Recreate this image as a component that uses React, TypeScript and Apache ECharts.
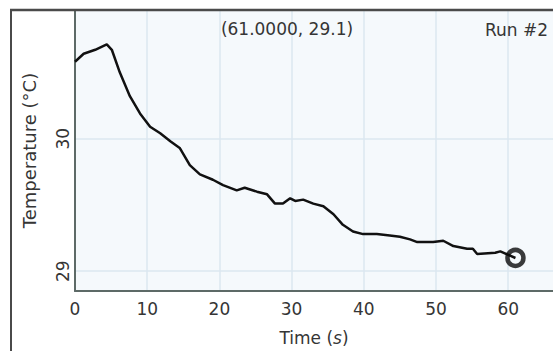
import React, { useEffect, useRef } from "react";
import * as echarts from "echarts";

const timeS = [0, 1.2, 2.8, 4.4, 5.1, 6.2, 7.6, 9.0, 10.4, 11.8, 13.2, 14.5, 15.9, 17.3, 19.1, 20.5, 22.4, 23.5, 25.2, 26.6, 27.7, 28.8, 29.8, 30.5, 31.6, 33.0, 34.4, 35.8, 37.1, 38.5, 39.9, 41.8, 43.6, 45.0, 46.4, 47.4, 49.6, 51.0, 52.4, 54.3, 55.1, 55.7, 58.2, 58.9, 61.0];
const tempC = [30.58, 30.64, 30.67, 30.71, 30.67, 30.50, 30.32, 30.19, 30.09, 30.04, 29.98, 29.93, 29.80, 29.73, 29.69, 29.65, 29.61, 29.63, 29.60, 29.58, 29.51, 29.51, 29.55, 29.53, 29.54, 29.51, 29.49, 29.43, 29.35, 29.30, 29.28, 29.28, 29.27, 29.26, 29.24, 29.22, 29.22, 29.23, 29.19, 29.17, 29.17, 29.13, 29.14, 29.15, 29.10];
const xTicks = [0, 10, 20, 30, 40, 50, 60];
const yTicks = [29, 30];
const cursorPoint = [61.0, 29.1];
const cursorLabel = "(61.0000, 29.1)";
const runLabel = "Run #2";

const FONT = '"DejaVu Sans", "Open Sans", sans-serif';

export default function App() {
  const ref = useRef<HTMLDivElement>(null);
  useEffect(() => {
    if (!ref.current) return;
    const chart = echarts.init(ref.current, null, { renderer: "svg" });
    const axisLineColor = "#5d6a67";
    const gridColor = "#dbe7f0";
    const textColor = "#353535";
    chart.setOption({
      animation: false,
      backgroundColor: "#ffffff",
      grid: {
        left: 75,
        top: 10,
        right: 0,
        bottom: 57,
        show: true,
        backgroundColor: "#f5f9fc",
        borderWidth: 0,
      },
      xAxis: {
        type: "value",
        min: 0,
        max: 66.2,
        name: "Time ({i|s})",
        nameLocation: "middle",
        nameGap: 38,
        nameTextStyle: {
          fontFamily: FONT,
          fontSize: 17,
          color: textColor,
          rich: { i: { fontStyle: "italic", fontFamily: FONT, fontSize: 17, color: textColor } },
        },
        axisLine: { show: true, onZero: false, lineStyle: { color: axisLineColor, width: 2 } },
        axisTick: { show: false, customValues: xTicks },
        axisLabel: { customValues: xTicks, fontFamily: FONT, fontSize: 17, color: textColor, margin: 9 },
        splitLine: { show: true, lineStyle: { color: gridColor, width: 1.5 } },
      },
      yAxis: {
        type: "value",
        min: 28.851,
        max: 30.97,
        name: "Temperature (°C)",
        nameLocation: "middle",
        nameGap: 37,
        nameRotate: 90,
        nameTextStyle: { fontFamily: FONT, fontSize: 18, color: textColor },
        axisLine: { show: true, onZero: false, lineStyle: { color: axisLineColor, width: 2 } },
        axisTick: { show: false, customValues: yTicks },
        axisLabel: { customValues: yTicks, rotate: 90, fontFamily: FONT, fontSize: 17, color: textColor, margin: 4 },
        splitLine: { show: true, lineStyle: { color: gridColor, width: 1.5 } },
      },
      series: [
        {
          type: "line",
          data: timeS.map((t, i) => [t, tempC[i]]),
          showSymbol: false,
          symbol: "none",
          lineStyle: { color: "#111", width: 2.5 },
        },
        {
          type: "scatter",
          data: [cursorPoint],
          symbol: "circle",
          symbolSize: 16,
          itemStyle: { color: "rgba(0,0,0,0)", borderColor: "#0a0a0a", borderWidth: 4.5 },
          z: 5,
        },
      ],
      graphic: [
        {
          type: "line",
          shape: { x1: 10, y1: 10, x2: 553, y2: 10 },
          style: { stroke: "#4a4a4a", lineWidth: 2.5 },
          z: 100,
        },
        {
          type: "line",
          shape: { x1: 11, y1: 9, x2: 11, y2: 351 },
          style: { stroke: "#4a4a4a", lineWidth: 2 },
          z: 100,
        },
        {
          type: "text",
          style: {
            text: cursorLabel,
            x: 287,
            y: 29,
            textAlign: "center",
            textVerticalAlign: "middle",
            font: `17px ${FONT}`,
            fill: textColor,
          },
          z: 100,
        },
        {
          type: "text",
          style: {
            text: runLabel,
            x: 485,
            y: 30,
            textAlign: "left",
            textVerticalAlign: "middle",
            font: `17px ${FONT}`,
            fill: textColor,
          },
          z: 100,
        },
      ],
    });
    return () => chart.dispose();
  }, []);
  return (
    <div
      ref={ref}
      style={{ position: "fixed", left: 0, top: 0, width: 553, height: 351, background: "#fff" }}
    />
  );
}
